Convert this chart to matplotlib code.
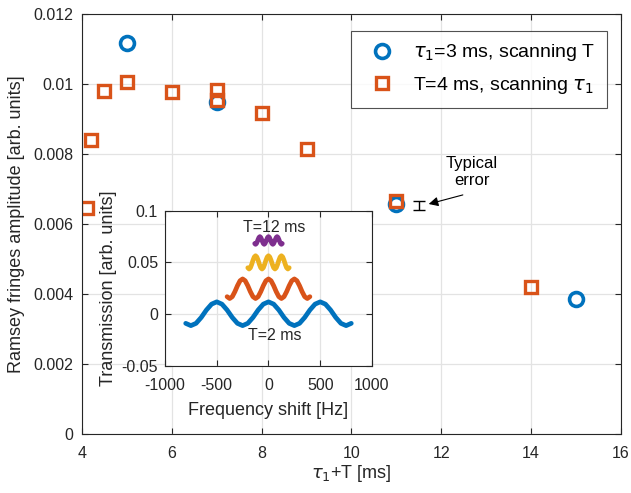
import numpy as np
import matplotlib
matplotlib.use("Agg")
import matplotlib.pyplot as plt
from matplotlib.ticker import FuncFormatter

plt.rcParams['font.family'] = ['Liberation Sans', 'DejaVu Sans']
plt.rcParams['mathtext.fontset'] = 'dejavusans'
plt.rcParams['axes.unicode_minus'] = False

# ---- main data ----
scanT_x = [5, 7, 11, 15]
scanT_y = [0.01116, 0.00949, 0.00657, 0.00386]
scanTau_x = [4.1, 4.2, 4.5, 5, 6, 7, 7, 8, 9, 11, 14]
scanTau_y = [0.00645, 0.00839, 0.00981, 0.01005, 0.00978, 0.00984, 0.00954,
             0.00917, 0.00813, 0.00667, 0.00421]
err_x = [11.5]
err_y = [0.00653]
err_val = [0.00013]

xticks = [4, 6, 8, 10, 12, 14, 16]
yticks = [0, 0.002, 0.004, 0.006, 0.008, 0.01, 0.012]

# ---- inset data (transmission vs frequency shift) ----
f_T2 = np.linspace(-800, 800, 33)
tr_T2 = [-0.0090, -0.0112, -0.0090, -0.0033, 0.0039, 0.0096, 0.0118, 0.0096, 0.0039, -0.0033,
         -0.0090, -0.0112, -0.0090, -0.0033, 0.0039, 0.0096, 0.0118, 0.0096, 0.0039, -0.0033,
         -0.0090, -0.0112, -0.0090, -0.0033, 0.0039, 0.0096, 0.0118, 0.0096, 0.0039, -0.0033,
         -0.0090, -0.0112, -0.0090]
f_T4 = np.linspace(-400, 400, 33)
tr_T4 = [0.0168, 0.0150, 0.0168, 0.0216, 0.0274, 0.0322, 0.0340, 0.0322, 0.0274, 0.0216,
         0.0168, 0.0150, 0.0168, 0.0216, 0.0274, 0.0322, 0.0340, 0.0322, 0.0274, 0.0216,
         0.0168, 0.0150, 0.0168, 0.0216, 0.0274, 0.0322, 0.0340, 0.0322, 0.0274, 0.0216,
         0.0168, 0.0150, 0.0168]
f_T8 = np.linspace(-200, 200, 33)
tr_T8 = [0.0448, 0.0436, 0.0448, 0.0480, 0.0520, 0.0552, 0.0564, 0.0552, 0.0520, 0.0480,
         0.0448, 0.0436, 0.0448, 0.0480, 0.0520, 0.0552, 0.0564, 0.0552, 0.0520, 0.0480,
         0.0448, 0.0436, 0.0448, 0.0480, 0.0520, 0.0552, 0.0564, 0.0552, 0.0520, 0.0480,
         0.0448, 0.0436, 0.0448]
f_T12 = np.linspace(-133.3, 133.3, 33)
tr_T12 = [0.0682, 0.0675, 0.0682, 0.0701, 0.0723, 0.0742, 0.0749, 0.0742, 0.0723, 0.0701,
          0.0682, 0.0675, 0.0682, 0.0701, 0.0723, 0.0742, 0.0749, 0.0742, 0.0723, 0.0701,
          0.0682, 0.0675, 0.0682, 0.0701, 0.0723, 0.0742, 0.0749, 0.0742, 0.0723, 0.0701,
          0.0682, 0.0675, 0.0682]
inset_xticks = [-1000, -500, 0, 500, 1000]
inset_yticks = [-0.05, 0, 0.05, 0.1]

BLUE = '#0072BD'
ORANGE = '#D95319'
YELLOW = '#EDB120'
PURPLE = '#7E2F8E'
AX = '#262626'
GRID = '#e3e3e3'

fmt = FuncFormatter(lambda v, p: '0' if abs(v) < 1e-12 else '%g' % v)

def style(ax, fs):
    for s in ax.spines.values():
        s.set_color(AX)
        s.set_linewidth(0.8)
    ax.tick_params(direction='in', length=4, width=0.8, color=AX, pad=6,
                   labelsize=fs, labelcolor=AX, top=True, right=True)
    ax.grid(True, color=GRID, linewidth=0.9)
    ax.set_axisbelow(True)

fig = plt.figure(figsize=(6.31, 4.93), dpi=100)
ax = fig.add_axes([0.130, 0.1197, 0.854, 0.852])
style(ax, 11.5)
ax.tick_params(axis='x', pad=9)

ax.plot(scanT_x, scanT_y, linestyle='none', marker='o', markersize=10,
        markerfacecolor='none', markeredgecolor=BLUE, markeredgewidth=2.6,
        label=r'$\tau_1$=3 ms, scanning T')
ax.plot(scanTau_x, scanTau_y, linestyle='none', marker='s', markersize=8,
        markerfacecolor='none', markeredgecolor=ORANGE, markeredgewidth=2.4,
        label=r'T=4 ms, scanning $\tau_1$')
ax.errorbar(err_x, err_y, yerr=err_val, fmt='none', ecolor='black',
            elinewidth=1, capsize=4.5, capthick=1)
ax.text(12.68, 0.00748, 'Typical\nerror', ha='center', va='center',
        fontsize=12, color='black', linespacing=1.15)
ax.annotate('', xy=(11.72, 0.00657), xytext=(12.48, 0.00683),
            arrowprops=dict(arrowstyle='-|>', color='black', lw=0.8,
                            mutation_scale=14, shrinkA=0, shrinkB=0))

ax.set_xlim(4, 16)
ax.set_ylim(0, 0.012)
ax.set_xticks(xticks)
ax.set_yticks(yticks)
ax.yaxis.set_major_formatter(fmt)
ax.set_xlabel(r'$\tau_1$+T [ms]', fontsize=13, color=AX, labelpad=1)
ax.set_ylabel('Ramsey fringes amplitude [arb. units]', fontsize=13, color=AX, labelpad=6)

leg = ax.legend(loc='upper right', bbox_to_anchor=(0.974, 0.96), fontsize=14,
                frameon=True, fancybox=False, borderaxespad=0,
                handletextpad=0.6, borderpad=0.6, labelspacing=0.6)
leg.get_frame().set_edgecolor(AX)
leg.get_frame().set_linewidth(0.8)

# ---- inset ----
ins = fig.add_axes([0.2615, 0.2582, 0.328, 0.3144])
ins.set_facecolor('white')
style(ins, 11.5)
ins.tick_params(axis='x', pad=9)
ins.tick_params(axis='y', pad=5)
for f, tr, c in [(f_T2, tr_T2, BLUE), (f_T4, tr_T4, ORANGE),
                 (f_T8, tr_T8, YELLOW), (f_T12, tr_T12, PURPLE)]:
    ins.plot(f, tr, color=c, linewidth=3.4, solid_capstyle='round',
             solid_joinstyle='round')
ins.text(55, 0.0834, 'T=12 ms', ha='center', va='center', fontsize=11.5, color=AX)
ins.text(64, -0.0207, 'T=2 ms', ha='center', va='center', fontsize=11.5, color=AX)
ins.set_xlim(-1000, 1000)
ins.set_ylim(-0.05, 0.1)
ins.set_xticks(inset_xticks)
ins.set_yticks(inset_yticks)
ins.yaxis.set_major_formatter(fmt)
ins.set_xlabel('Frequency shift [Hz]', fontsize=13, color=AX, labelpad=6)
ins.set_ylabel('Transmission [arb. units]', fontsize=13, color=AX, labelpad=3)

fig.savefig('out.png', dpi=100)
